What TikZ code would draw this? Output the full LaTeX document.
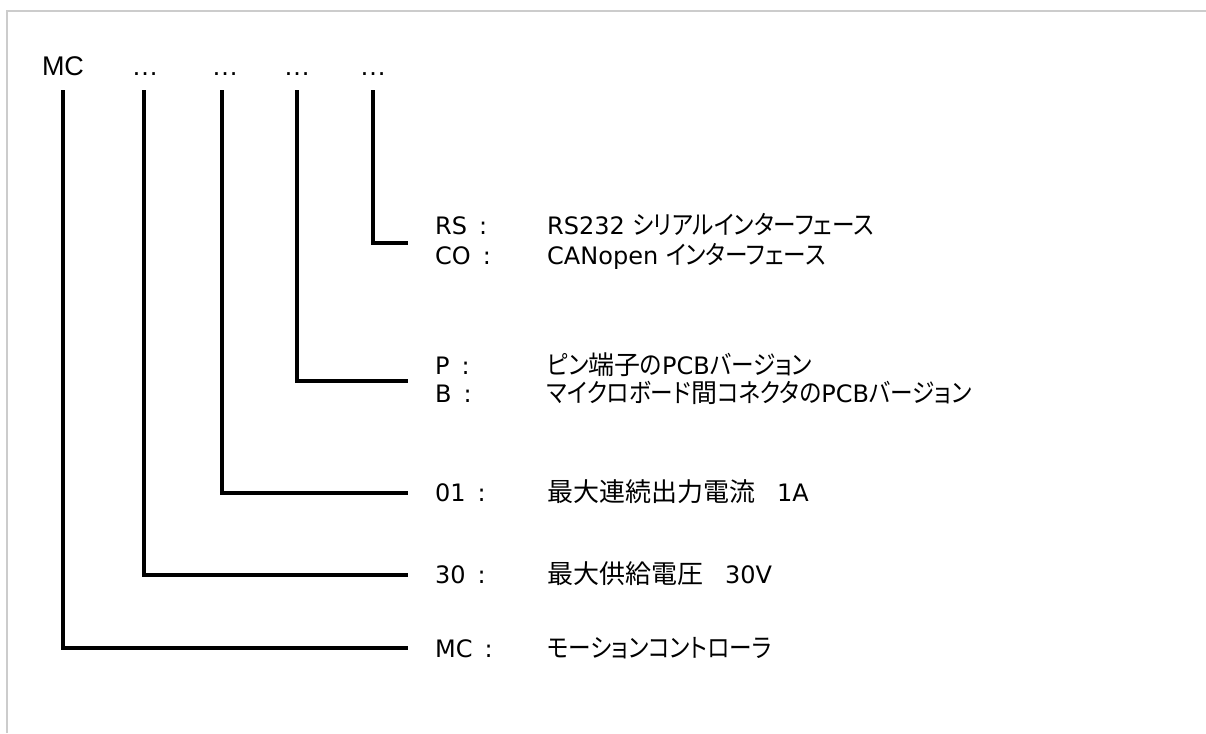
\documentclass[tikz,border=0pt]{standalone}
\usepackage{fontspec}
\setmainfont{Liberation Sans}
\newfontfamily\latf{DejaVu Sans}
\newfontfamily\kanaf{Noto Sans CJK JP}[RawFeature=+palt, FakeStretch=0.87]
\newfontfamily\kanjif{Noto Sans CJK JP}
\newcommand\la[1]{{\latf\fontsize{24}{24}\selectfont #1}}
\newcommand\kj[1]{{\kanjif\fontsize{26}{26}\selectfont #1}}
\begin{document}
\begin{tikzpicture}[x=1pt,y=-1pt,
  head/.style={font=\fontsize{27}{27}\selectfont, inner sep=0pt, anchor=base},
  key/.style={font=\latf\fontsize{24}{24}\selectfont, inner sep=0pt, anchor=base west},
  lab/.style={font=\kanaf\fontsize{26}{26}\selectfont, inner sep=0pt, anchor=base west},
  wire/.style={line width=3.7pt, line join=miter, line cap=butt},
  thickwire/.style={wire, line width=4.3pt},
  frame/.style={draw=black!20, line width=1.4pt}]
\useasboundingbox (0,0) rectangle (1206,733);
\draw[frame] (7,733) -- (7,11) -- (1206,11);

% header codes
\node[head] (mc) at (63,76) {MC};
\node[head] (d1) at (145,76) {…};
\node[head] (d2) at (225,76) {…};
\node[head] (d3) at (297,76) {…};
\node[head] (d4) at (373,76) {…};

% labels
\node[key] (lRS) at (435,234) {RS\hspace{0.5em}:};
\node[lab] (vRS) at (547,234) {\la{RS232\ }シリアルインターフェース};
\node[key] (lCO) at (435,264) {CO\hspace{0.5em}:};
\node[lab] (vCO) at (547,264) {\la{CANopen\ }インターフェース};
\node[key] (lP) at (435,374) {P\hspace{0.5em}:};
\node[lab] (vP) at (547,374) {ピン\kj{端子}の\la{PCB}バージョン};
\node[key] (lB) at (435,402) {B\hspace{0.5em}:};
\node[lab] (vB) at (547,402) {マイクロボード\kj{間}コネクタの\la{PCB}バージョン};
\node[key] (l01) at (435,501) {01\hspace{0.5em}:};
\node[lab] (v01) at (547,501) {\kj{最大連続出力電流}\hspace{22pt}\la{1A}};
\node[key] (l30) at (435,583) {30\hspace{0.5em}:};
\node[lab] (v30) at (547,583) {\kj{最大供給電圧}\hspace{22pt}\la{30V}};
\node[key] (lMC) at (435,657) {MC\hspace{0.5em}:};
\node[lab] (vMC) at (547,657) {モーションコントローラ};

% free ends of the connectors
\coordinate (eRS) at (408,243);
\coordinate (ePB) at (408,381);
\coordinate (e01) at (408,493);
\coordinate (e30) at (408,575);
\coordinate (eMC) at (408,648);

% connectors
\draw[thickwire] ([yshift=-14pt]mc.south) |- (eMC);
\draw[thickwire] ([xshift=-1pt,yshift=-14pt]d1.south) |- (e30);
\draw[wire] ([xshift=-3pt,yshift=-14pt]d2.south) |- (e01);
\draw[wire] ([yshift=-14pt]d3.south) |- (ePB);
\draw[wire] ([yshift=-14pt]d4.south) |- (eRS);
\end{tikzpicture}
\end{document}
